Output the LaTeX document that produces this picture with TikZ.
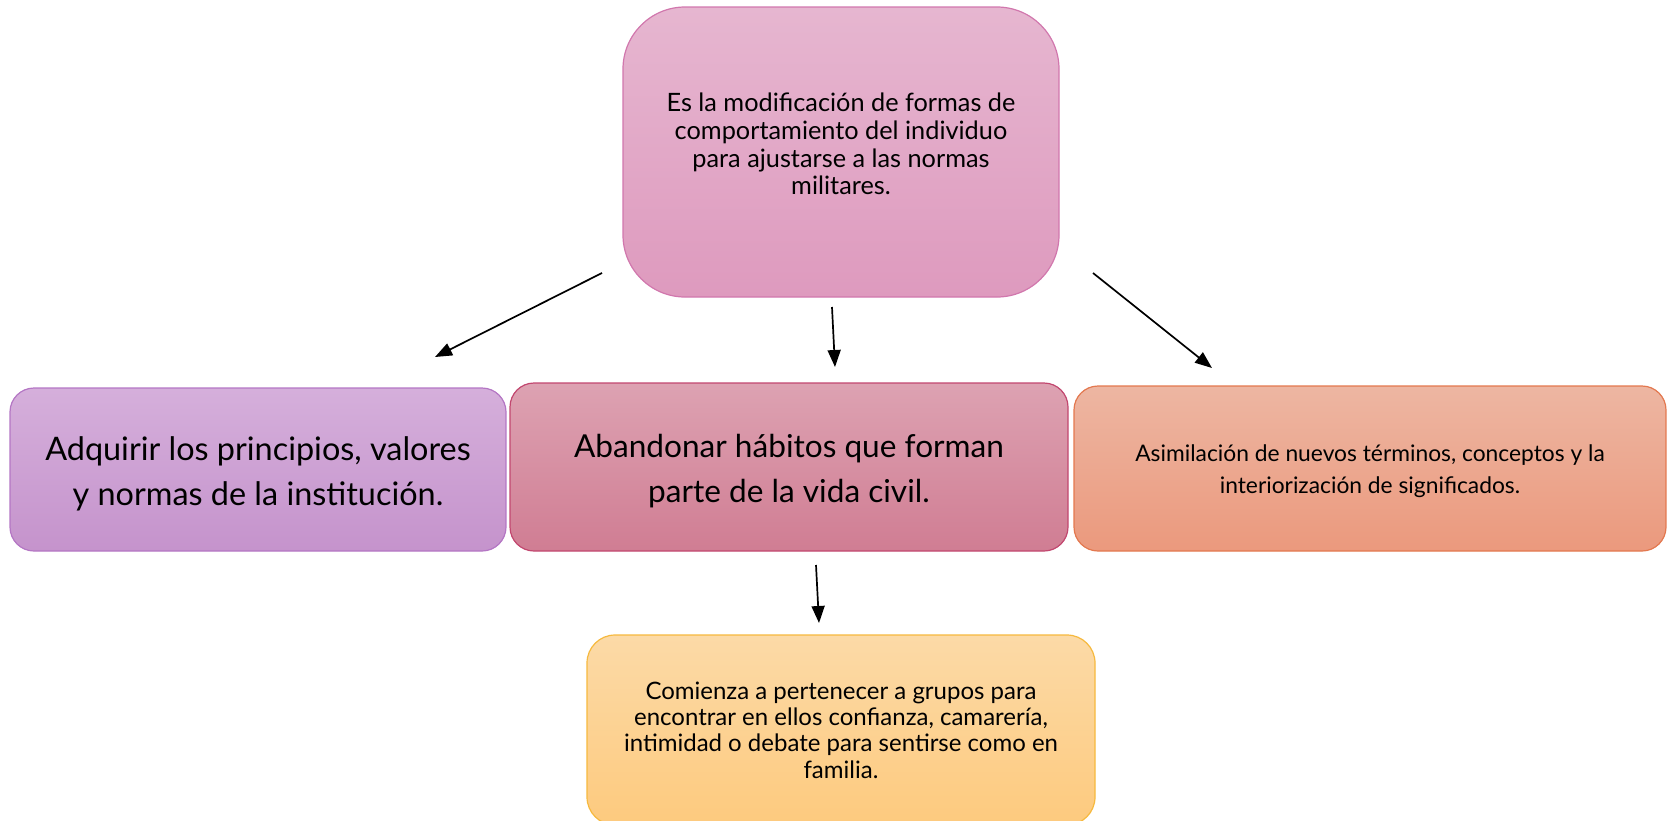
\documentclass[tikz,border=0pt]{standalone}
\usepackage{fontspec}
\setmainfont{Lato}
\usetikzlibrary{arrows.meta}
\definecolor{topT}{HTML}{E6B6D0}
\definecolor{topB}{HTML}{DE9ABE}
\definecolor{topD}{HTML}{D177AD}
\definecolor{lefT}{HTML}{D5AFDB}
\definecolor{lefB}{HTML}{C593CC}
\definecolor{lefD}{HTML}{B476C4}
\definecolor{midT}{HTML}{DDA2B2}
\definecolor{midB}{HTML}{D07D93}
\definecolor{midD}{HTML}{C2476F}
\definecolor{rigT}{HTML}{EDB6A2}
\definecolor{rigB}{HTML}{EB997D}
\definecolor{rigD}{HTML}{E3784F}
\definecolor{botT}{HTML}{FCDAA7}
\definecolor{botB}{HTML}{FDCA7E}
\definecolor{botD}{HTML}{F6B93E}
\begin{document}
\begin{tikzpicture}[x=1pt,y=-1pt,
  box/.style={draw, line width=1.2pt, align=center, inner sep=0pt, text=black},
  label text/.style={align=center, inner sep=0pt, text=black},
  arr/.style={line width=1.7pt, -{Triangle[length=17pt,width=13pt]}}]
\useasboundingbox (0,0) rectangle (1667,820);
\node[box, top color=topT, bottom color=topB, draw=topD, rounded corners=62pt,
  minimum width=436pt, minimum height=290pt] (top) at (841,152) {};
\node[label text, font=\fontsize{25.3}{27.8}\selectfont] (toptext) at (841,144)
  {Es la modificación de formas de\\comportamiento del individuo\\para ajustarse a las normas\\militares.};
\node[box, top color=lefT, bottom color=lefB, draw=lefD, rounded corners=24pt,
  minimum width=496pt, minimum height=163pt] (left) at (258,469.5) {};
\node[label text, font=\fontsize{32.4}{45}\selectfont] (lefttext) at (258,474)
  {Adquirir los principios, valores\\y normas de la institución.};
\node[box, top color=midT, bottom color=midB, draw=midD, rounded corners=24pt,
  minimum width=558pt, minimum height=168pt] (mid) at (789,467) {};
\node[label text, font=\fontsize{31.6}{45}\selectfont] (midtext) at (789,471)
  {Abandonar hábitos que forman\\parte de la vida civil.};
\node[box, top color=rigT, bottom color=rigB, draw=rigD, rounded corners=24pt,
  minimum width=592pt, minimum height=165pt] (right) at (1370,468.5) {};
\node[label text, font=\fontsize{22.8}{32}\selectfont] (righttext) at (1370,471.5)
  {Asimilación de nuevos términos, conceptos y la\\interiorización de significados.};
\node[box, top color=botT, bottom color=botB, draw=botD, rounded corners=28pt,
  minimum width=508pt, minimum height=190pt,
  font=\fontsize{24}{26.3}\selectfont] (bot) at (841,730)
  {Comienza a pertenecer a grupos para\\encontrar en ellos confianza, camarería,\\intimidad o debate para sentirse como en\\familia.};
\coordinate (a1s) at (602,273);
\coordinate (a1e) at (435,357);
\coordinate (a2s) at (832,307);
\coordinate (a2e) at (835,367);
\coordinate (a3s) at (1093,273);
\coordinate (a3e) at (1212,368);
\coordinate (a4s) at (816,565);
\coordinate (a4e) at (819,623);
\draw[arr] (a1s) -- (a1e);
\draw[arr] (a2s) -- (a2e);
\draw[arr] (a3s) -- (a3e);
\draw[arr] (a4s) -- (a4e);
\end{tikzpicture}
\end{document}
